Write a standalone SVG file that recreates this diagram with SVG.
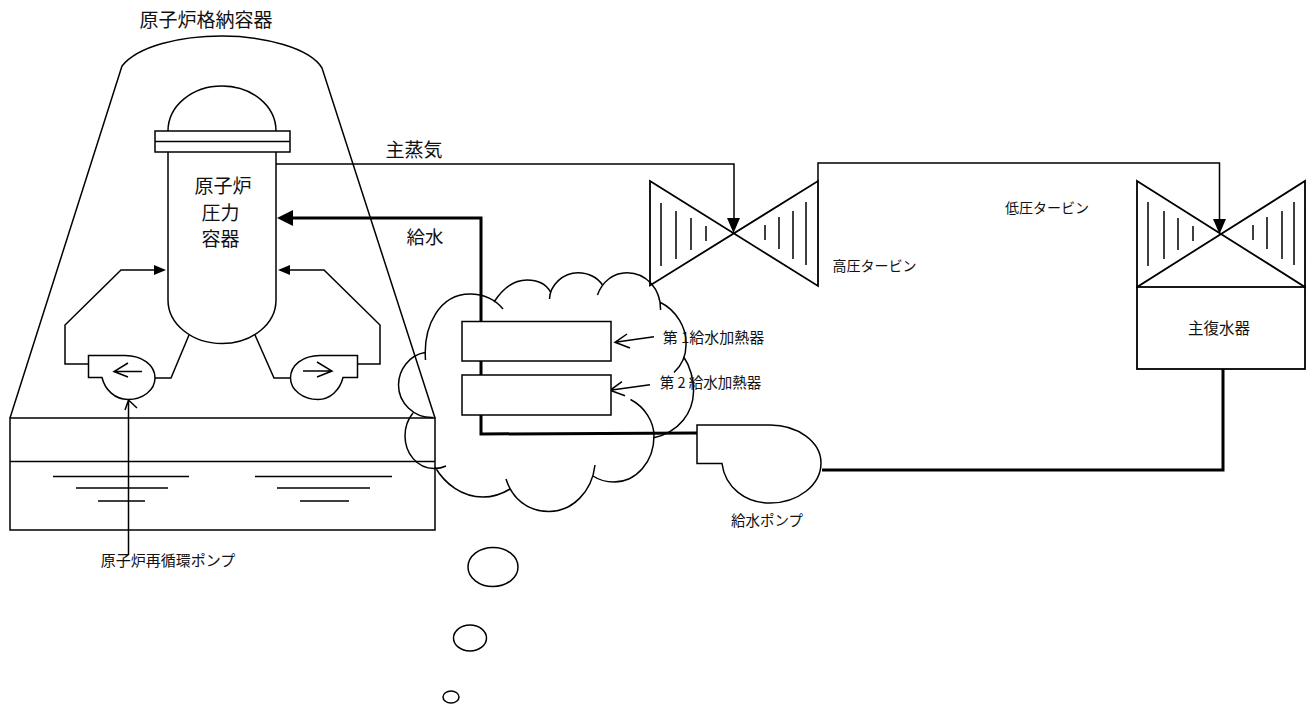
<svg xmlns="http://www.w3.org/2000/svg" width="1313" height="720" viewBox="0 0 1313 720">
<style>
.l{fill:none;stroke:#000;stroke-width:1.5}
.m{fill:none;stroke:#000;stroke-width:1.5}
.t{fill:none;stroke:#000;stroke-width:3}
.w{fill:#fff;stroke:#000;stroke-width:1.5}
.a{fill:#000;stroke:none}
text{font-family:"Noto Sans CJK JP","Liberation Sans",sans-serif;fill:#111;text-anchor:middle;dominant-baseline:central}
</style>
<rect width="1313" height="720" fill="#fff"/>
<g id="containment">
<path class="m" d="M122 66C138 46 180 36 222 36C264 36 310 48 322 68L435 418M122 66L10 418"/>
<text x="206" y="18" font-size="19">原子炉格納容器</text>
</g>
<g id="suppression-pool">
<rect class="m" x="10" y="418" width="425" height="112"/>
<path class="m" d="M10 461.500H435M53 476.500H189M76 488H168M98 501H145M255 476.500H392M277 488H370M300 501H349"/>
</g>
<g id="connectors">
<path class="l" d="M276 164H734V220"/>
<path class="a" d="M727 218H740L733.500 233Z"/>
<path class="l" d="M818 181V163H1219.500V220"/>
<path class="a" d="M1213 219H1226L1219.500 234Z"/>
<path class="t" d="M290 218H481V434L697 433"/>
<path class="a" d="M277 218L293 210V226Z"/>
<path class="t" d="M822 470H1223V369"/>
<path class="m" d="M155 378H171L189 335M88 364H65V325L121 270H156"/>
<path class="a" d="M166 270L154 265V275Z"/>
<path class="m" d="M290 378H274L255 335M358 364H380V325L324 270H288"/>
<path class="a" d="M278 270L290 265V275Z"/>
<path class="m" d="M128.500 555V400M125 410L128.500 400L137 408"/>
<path class="m" d="M654 336.700L615 342.300M627 334L615 342.300L630 348"/>
<path class="m" d="M650 384.700L610 390.300M622 381.700L610 390.300L625 395.700"/>
</g>
<g id="reactor-vessel">
<path class="m" d="M168 131C168 106 192 86 222 86C252 86 276 106 276 131M168 152V300C168 324 192 343.500 222 343.500C252 343.500 276 324 276 300V152"/>
<rect class="m" x="155" y="131" width="135" height="21"/>
<path class="m" d="M155 141.500H290"/>
<text x="223" y="184" font-size="19">原子炉</text>
<text x="220.500" y="211" font-size="19">圧力</text>
<text x="220.500" y="237" font-size="19">容器</text>
</g>
<g id="recirc-pump-left">
<path class="m" d="M88.500 355.500V377.500H102C105 390 115 399.500 128 399.500C143 399.500 155 390 155 378C155 365 142 355.500 125 355.500Z"/>
<path class="m" d="M142 371.500H114M128 363L114 371.500L128 377"/>
</g>
<g id="recirc-pump-right">
<path class="m" d="M357.500 355.500V377.500H343C340 390 330 399.500 318 399.500C303 399.500 290.500 390 290.500 378C290.500 365 303 355.500 320 355.500Z"/>
<path class="m" d="M303 371H332M317 362L332 371L317 377"/>
</g>
<text x="168" y="559" font-size="15">原子炉再循環ポンプ</text>
<text x="414" y="148" font-size="19">主蒸気</text>
<text x="425" y="236" font-size="18.500">給水</text>
<g id="cloud">
<path class="l" d="M425.500 360C423 325 440 294 470 294C484 294 496 300 503 309M494 302C503 288 515 280 527 280C538 280 546 284 550.500 292M549.500 299C550 285 563 272.700 578 272.700C589 272.700 598 278 602.500 285M597.500 295C602 282 613 272.700 627 272.700C647 272.700 661 290 660.500 310M660.500 302.500C676 310 687 328 686 345C686 355 682 365 674 372.500M683.500 356.500C690 366 694 380 693.500 392C693 412 680 432 653 438M630.500 399.500C645 407 654 422 654 436C654 462 636 482 614 482C606 482 599 480 593 476M595 465C592 492 572 511.500 549 511.500C527 511.500 512 498 506 479M510 489C502 494 492 497 483 497C462 497 445 484 435 467M446 466C442 468 438 468.500 434 468.500C417 468.500 405 453 405 436C405 427 408 419 413 413M433 417.500C414 418 398.500 403 398.500 385C398.500 369 410 355 425 352.500"/>
</g>
<g id="heater-1"><rect class="w" x="462" y="321.500" width="149" height="39.500"/></g>
<g id="heater-2"><rect class="w" x="462" y="375" width="149" height="40"/></g>
<text x="713.500" y="336" font-size="15">第 1給水加熱器</text>
<text x="710.500" y="381" font-size="14.500">第 2 給水加熱器</text>
<g id="hp-turbine">
<path class="m" d="M650 181L818 286V181L650 285.500Z" style="stroke-width:1.800"/>
<path class="m" d="M661 203V266M676 211V259M691 218V250M706 226V241M765 225V240M779 217V249M793 211V259M806 202V265"/>
<text x="874.500" y="265" font-size="14">高圧タービン</text>
</g>
<g id="lp-turbine">
<path class="m" d="M1137 181L1305 287V181L1137 287Z" style="stroke-width:1.800"/>
<path class="m" d="M1148 202V266M1164 211V259M1178 218V250M1193 226V241M1253 225V240M1267 217V249M1282 211V259M1294 202V265"/>
<text x="1047" y="207" font-size="14">低圧タービン</text>
</g>
<g id="condenser">
<rect class="m" x="1137" y="287" width="168" height="82" style="stroke-width:1.800"/>
<text x="1219" y="327" font-size="15.500">主復水器</text>
</g>
<g id="feed-pump">
<path class="m" d="M697 425V463.500H722C725 487 745 503 770 503C798 503 821 485 821 463C821 442 798 425 770 425Z"/>
<text x="767" y="519" font-size="14.500">給水ポンプ</text>
</g>
<g id="bubbles">
<ellipse class="l" cx="493" cy="567" rx="25" ry="19.500"/>
<ellipse class="l" cx="470" cy="638" rx="16.500" ry="13"/>
<ellipse class="l" cx="451" cy="697" rx="8" ry="6"/>
</g>
</svg>
